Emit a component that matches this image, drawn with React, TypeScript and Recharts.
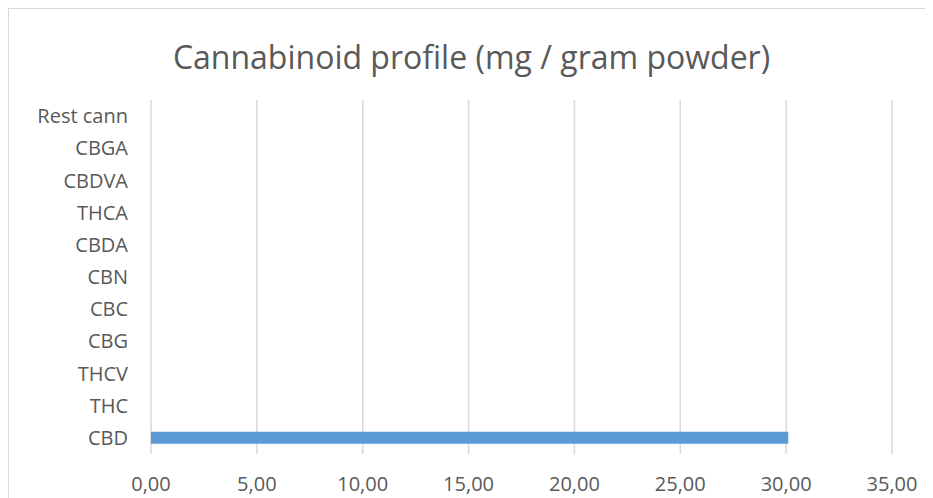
import { BarChart, Bar, XAxis, YAxis, CartesianGrid } from "recharts";

const categories = [
  "Rest cann",
  "CBGA",
  "CBDVA",
  "THCA",
  "CBDA",
  "CBN",
  "CBC",
  "CBG",
  "THCV",
  "THC",
  "CBD",
];
const mgPerGram = [0, 0, 0, 0, 0, 0, 0, 0, 0, 0, 30.1];
const xTicks = [0, 5, 10, 15, 20, 25, 30, 35];

const data = categories.map((name, i) => ({ name, value: mgPerGram[i] }));

const FONT = "Open Sans, Calibri, sans-serif";
const TEXT = "#595959";

export default function App() {
  return (
    <div
      style={{
        position: "relative",
        width: 940,
        height: 500,
        borderTop: "1px solid #d9d9d9",
        borderLeft: "1px solid #d9d9d9",
        boxSizing: "border-box",
        fontFamily: FONT,
      }}
    >
      <div
        style={{
          position: "absolute",
          left: 0,
          width: 925,
          top: 26,
          textAlign: "center",
          fontSize: 32,
          color: TEXT,
        }}
      >
        Cannabinoid profile (mg / gram powder)
      </div>
      <BarChart
        width={924}
        height={489}
        data={data}
        layout="vertical"
        margin={{ top: 91, right: 41, bottom: 14, left: 0 }}
      >
        <CartesianGrid horizontal={false} stroke="#d9d9d9" strokeWidth={1.5} />
        <XAxis
          type="number"
          domain={[0, 35]}
          ticks={xTicks}
          tickFormatter={(v: number) => v.toFixed(2).replace(".", ",")}
          axisLine={false}
          tickLine={false}
          tickSize={0}
          tickMargin={23}
          height={30}
          tick={{ fill: TEXT, fontSize: 20, fontFamily: FONT }}
          interval={0}
        />
        <YAxis
          type="category"
          dataKey="name"
          width={142}
          axisLine={false}
          tickLine={false}
          tickSize={0}
          tickMargin={23}
          tick={{ fill: TEXT, fontSize: 20, fontFamily: FONT }}
          interval={0}
        />
        <Bar dataKey="value" fill="#5b9bd5" barSize={12} isAnimationActive={false} />
      </BarChart>
    </div>
  );
}
